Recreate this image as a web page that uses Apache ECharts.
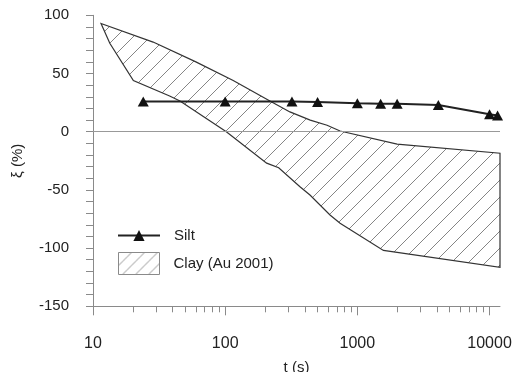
<!DOCTYPE html>
<html>
<head>
<meta charset="utf-8">
<script src="https://cdn.jsdelivr.net/npm/echarts@6/dist/echarts.min.js"></script>
<style>html,body{margin:0;padding:0;background:#fff}#c{width:523px;height:372px}</style>
</head>
<body>
<div id="c"></div>
<script>
// ---- data ----
var siltT = [24, 100, 320, 500, 1000, 1500, 2000, 4100, 10000, 11500];
var siltXi = [26, 26, 26, 25.5, 24.5, 24, 24, 23, 15, 14];
var clayUpperT = [11.5, 28.5, 60, 115, 218, 309, 440, 590, 740, 2000, 12000];
var clayUpperXi = [93, 77, 60, 44, 26.4, 17, 10, 5.5, 0.6, -10.6, -18.5];
var clayLowerT = [11.5, 13.4, 20.2, 38, 45.5, 102, 206, 254, 368, 438, 621, 740, 1575, 12000];
var clayLowerXi = [93, 76, 44, 30.7, 26.4, 0, -27, -31, -47.3, -54.4, -71.6, -78.7, -102, -116.5];
var xLabelValues = [10, 100, 1000, 10000];
var xMajorTicks = [10, 100, 1000, 10000];
var xMinorTicks = [20,30,40,50,60,70,80,90,200,300,400,500,600,700,800,900,2000,3000,4000,5000,6000,7000,8000,9000];
var seriesNames = ['Silt', 'Clay (Au 2001)'];

// hatch pattern
function makeHatch(size, color) {
  var cv = document.createElement('canvas');
  cv.width = size; cv.height = size;
  var ctx = cv.getContext('2d');
  ctx.strokeStyle = color; ctx.lineWidth = 0.9;
  ctx.beginPath();
  ctx.moveTo(0, size); ctx.lineTo(size, 0);
  ctx.moveTo(-size/2, size/2); ctx.lineTo(size/2, -size/2);
  ctx.moveTo(size/2, size*1.5); ctx.lineTo(size*1.5, size/2);
  ctx.stroke();
  return {image: cv, repeat: 'repeat'};
}
var hatch = makeHatch(17, '#777');
var hatchLegend = makeHatch(13, '#8a8a8a');

var siltData = siltT.map(function (t, i) { return [t, siltXi[i]]; });
var FONT = 'Liberation Sans, Arial, sans-serif';
var axisColor = '#8a8a8a';

var commonX = {
  type: 'log', logBase: 10, min: 10, max: 12000,
  splitLine: {show: false}, minorTick: {show: false}
};

var chart = echarts.init(document.getElementById('c'), null, {renderer: 'canvas'});
chart.setOption({
  backgroundColor: '#fff',
  animation: false,
  grid: {left: 93, right: 23, top: 15.3, bottom: 65.7, containLabel: false, outerBoundsMode: 'none'},
  legend: [{
    data: [seriesNames[0]],
    orient: 'vertical', left: 112, top: 223,
    itemWidth: 42, itemHeight: 14,
    textStyle: {fontFamily: FONT, fontSize: 15, color: '#222', padding: [0, 0, 0, 9]}
  }, {
    data: [{name: seriesNames[1], icon: 'rect', itemStyle: {color: hatchLegend, borderColor: '#8a8a8a', borderWidth: 1}}],
    orient: 'vertical', left: 113, top: 247,
    itemWidth: 41, itemHeight: 22,
    textStyle: {fontFamily: FONT, fontSize: 15, color: '#222', padding: [0, 0, 0, 9]}
  }],
  xAxis: [Object.assign({}, commonX, {
    name: 't (s)', nameLocation: 'middle', nameGap: 54,
    nameTextStyle: {fontFamily: FONT, fontSize: 15, color: '#222'},
    axisLine: {show: true, onZero: false, lineStyle: {color: axisColor, width: 1}},
    axisTick: {show: true, length: 9, customValues: xMajorTicks, lineStyle: {color: axisColor}},
    axisLabel: {customValues: xLabelValues, margin: 29, fontFamily: FONT, fontSize: 16, color: '#222',
      formatter: function (v) { return String(Math.round(v)); }}
  }), Object.assign({}, commonX, {
    position: 'bottom',
    axisLine: {show: false, onZero: false},
    axisTick: {show: true, length: 6, customValues: xMinorTicks, lineStyle: {color: axisColor}},
    axisLabel: {show: false}
  })],
  yAxis: {
    type: 'value', min: -150, max: 100, interval: 50,
    name: 'ξ (%)', nameLocation: 'middle', nameGap: 68,
    nameTextStyle: {fontFamily: FONT, fontSize: 15, color: '#222'},
    axisLine: {show: true, onZero: false, lineStyle: {color: axisColor, width: 1}},
    axisTick: {show: true, length: 7, lineStyle: {color: axisColor}},
    minorTick: {show: true, splitNumber: 5, length: 7, lineStyle: {color: axisColor}},
    axisLabel: {margin: 24, fontFamily: FONT, fontSize: 15, color: '#222'},
    splitLine: {show: false}
  },
  series: [{
    name: seriesNames[1],
    type: 'custom',
    coordinateSystem: 'cartesian2d',
    data: [[clayUpperT[0], clayUpperXi[0]]],
    itemStyle: {color: '#888'},
    z: 1,
    renderItem: function (params, api) {
      var pts = [];
      for (var i = 0; i < clayUpperT.length; i++) pts.push(api.coord([clayUpperT[i], clayUpperXi[i]]));
      for (var j = clayLowerT.length - 1; j >= 0; j--) pts.push(api.coord([clayLowerT[j], clayLowerXi[j]]));
      return {
        type: 'polygon',
        shape: {points: pts},
        style: {fill: hatch, stroke: '#333', lineWidth: 1.2}
      };
    }
  }, {
    name: seriesNames[0],
    type: 'line',
    data: siltData,
    symbol: 'triangle',
    symbolSize: [11, 10],
    itemStyle: {color: '#111'},
    lineStyle: {color: '#222', width: 2},
    z: 3,
    markLine: {
      silent: true, symbol: 'none', label: {show: false},
      lineStyle: {color: '#999', width: 1, type: 'solid'},
      data: [{yAxis: 0}],
      z: 2
    }
  }]
});
</script>
</body>
</html>
